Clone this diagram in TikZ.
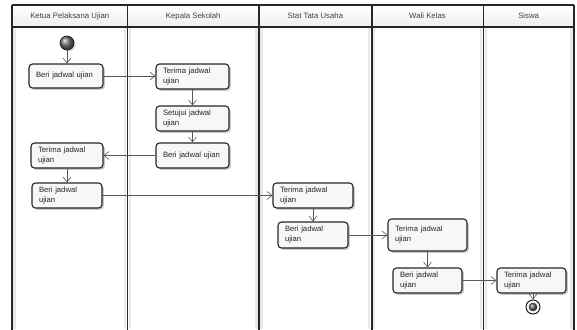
\documentclass[tikz,border=0pt]{standalone}
\usepackage{fontspec}
\setmainfont{Liberation Sans}
\usetikzlibrary{arrows.meta,shadows}
\begin{document}
\begin{tikzpicture}[x=1pt,y=-1pt,
  laneline/.style={draw=black!85, line width=1.6pt},
  laneshade/.style={draw=black!9, line width=2.5pt},
  lanetitle/.style={font=\fontsize{7.8}{9}\selectfont, text=black!75},
  act/.style={draw=black!85, line width=1.1pt, rounded corners=3.5pt, fill=black!3,
    drop shadow={shadow xshift=1.8pt, shadow yshift=-1.8pt, opacity=0.3, fill=black!70},
    font=\fontsize{7.7}{10}\selectfont, text=black!85, align=left,
    inner xsep=7pt, inner ysep=0pt},
  flow/.style={draw=black!65, line width=0.6pt, -{Straight Barb[length=5pt,width=8pt]}},
  startnode/.style={circle, draw=black!90, line width=0.6pt, minimum size=14pt, inner sep=0pt,
    ball color=black!55, drop shadow={shadow xshift=1.5pt, shadow yshift=-1.5pt, opacity=0.3}},
  endnode/.style={circle, draw=black!90, line width=1pt, minimum size=14pt, inner sep=0pt, fill=white},
]
\useasboundingbox (0,0) rectangle (577,329);

% lane header strip
\shade[top color=white, bottom color=black!7] (12,5) rectangle (574,27);

% soft shading along the inside of each lane border
\foreach \x in {12,127.5,259,371.7,483.3} \draw[laneshade] (\x+2.5,28) -- (\x+2.5,329);
\foreach \x in {127.5,259,371.7,483.3,574} \draw[laneshade] (\x-2.5,28) -- (\x-2.5,329);

% lane borders
\draw[laneline] (12,5) -- (574,5);
\draw[laneline] (12,27) -- (574,27);
\foreach \x in {12,127.5,259,371.7,483.3,574} \draw[laneline] (\x,5) -- (\x,330);

% lane titles
\node[lanetitle] (h1) at (69.75,16) {Ketua Pelaksana Ujian};
\node[lanetitle] (h2) at (193.25,16) {Kepala Sekolah};
\node[lanetitle] (h3) at (315.35,16) {Stat Tata Usaha};
\node[lanetitle] (h4) at (427.5,16) {Wali Kelas};
\node[lanetitle] (h5) at (528.65,16) {Siswa};

% activities
\node[startnode] (start) at (67,43) {};
\node[act, minimum height=24pt, text width=60pt] (b1) at (66,76) {Beri jadwal ujian};
\node[act, minimum height=25pt, text width=59pt] (k1) at (192.5,76.5) {Terima jadwal\\ujian};
\node[act, minimum height=25pt, text width=59pt] (k2) at (192.5,118.5) {Setujui jadwal\\ujian};
\node[act, minimum height=25pt, text width=59pt] (k3) at (192.5,155.5) {Beri jadwal ujian};
\node[act, minimum height=25pt, text width=58pt] (l2) at (67,155.5) {Terima jadwal\\ujian};
\node[act, minimum height=25pt, text width=56pt] (l3) at (67,195.5) {Beri jadwal\\ujian};
\node[act, minimum height=25pt, text width=66pt] (s1) at (313,195.5) {Terima jadwal\\ujian};
\node[act, minimum height=26pt, text width=56pt] (s2) at (313,235) {Beri jadwal\\ujian};
\node[act, minimum height=32pt, text width=65pt] (w1) at (427.5,235) {Terima jadwal\\ujian};
\node[act, minimum height=25pt, text width=55pt] (w2) at (427.5,280.5) {Beri jadwal\\ujian};
\node[act, minimum height=25pt, text width=55pt] (si) at (531.5,280.5) {Terima jadwal\\ujian};
\node[endnode] (end) at (533,307) {};
\fill[black!80] (end.center) circle (4.3pt);
\shade[ball color=black!60] (end.center) circle (4pt);

% control flow
\draw[flow] (start) -- (start |- b1.north);
\draw[flow] (b1.east) -- (k1.west |- b1.east);
\draw[flow] (k1) -- (k2);
\draw[flow] (k2) -- (k3);
\draw[flow] (k3) -- (l2);
\draw[flow] (l2) -- (l3);
\draw[flow] (l3) -- (s1);
\draw[flow] (s1) -- (s2);
\draw[flow] (s2) -- (w1);
\draw[flow] (w1) -- (w2);
\draw[flow] (w2) -- (si);
\draw[flow] (si.south -| end) -- (end);
\end{tikzpicture}
\end{document}
